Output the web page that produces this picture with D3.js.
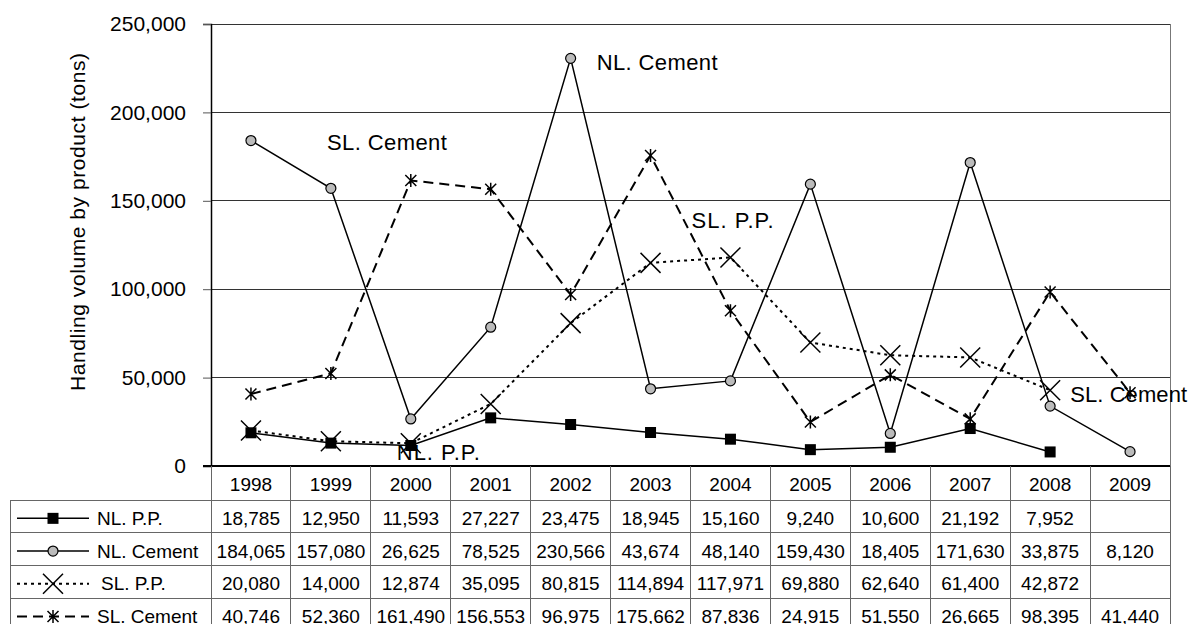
<!DOCTYPE html>
<html>
<head>
<meta charset="utf-8">
<script src="https://cdn.jsdelivr.net/npm/d3@7"></script>
<style>
  html, body { margin: 0; padding: 0; background: #fff; }
  svg { display: block; font-family: "Liberation Sans", Arial, sans-serif; }
</style>
</head>
<body>
<svg id="chart" width="1192" height="624"></svg>
<script>
// ---- data ----
const years = ["1998","1999","2000","2001","2002","2003","2004","2005","2006","2007","2008","2009"];
const nlPP     = [18785, 12950, 11593, 27227, 23475, 18945, 15160, 9240, 10600, 21192, 7952, null];
const nlCement = [184065, 157080, 26625, 78525, 230566, 43674, 48140, 159430, 18405, 171630, 33875, 8120];
const slPP     = [20080, 14000, 12874, 35095, 80815, 114894, 117971, 69880, 62640, 61400, 42872, null];
const slCement = [40746, 52360, 161490, 156553, 96975, 175662, 87836, 24915, 51550, 26665, 98395, 41440];
const seriesNames = ["NL. P.P.", "NL. Cement", "SL. P.P.", "SL. Cement"];
const yTicks = [0, 50000, 100000, 150000, 200000, 250000];
const yTitle = "Handling volume by product (tons)";

const series = [
  { name: seriesNames[0], values: nlPP,     marker: "square", dash: null },
  { name: seriesNames[1], values: nlCement, marker: "circle", dash: null },
  { name: seriesNames[2], values: slPP,     marker: "x",      dash: "3,4" },
  { name: seriesNames[3], values: slCement, marker: "star",   dash: "10,6" }
];

// ---- layout ----
const svg = d3.select("#chart");
const plotLeft = 211, plotRight = 1170, plotTop = 24, plotBottom = 466;
const x = d3.scaleBand().domain(years).range([plotLeft, plotRight]).padding(0);
const y = d3.scaleLinear().domain([0, 250000]).range([plotBottom, plotTop]);
const xc = yr => x(yr) + x.bandwidth() / 2;
const fmt = d3.format(",");

// gridlines
svg.append("g").selectAll("line").data(yTicks.filter(t => t > 0)).join("line")
  .attr("x1", plotLeft).attr("x2", plotRight)
  .attr("y1", d => y(d)).attr("y2", d => y(d))
  .attr("stroke", "#333").attr("stroke-width", 1).attr("shape-rendering", "crispEdges");

// right border
svg.append("line").attr("x1", plotRight).attr("x2", plotRight)
  .attr("y1", plotTop).attr("y2", plotBottom)
  .attr("stroke", "#777").attr("stroke-width", 1).attr("shape-rendering", "crispEdges");

// y axis
const yAxis = d3.axisLeft(y).tickValues(yTicks).tickFormat(fmt).tickSize(8).tickPadding(17);
const gy = svg.append("g").attr("transform", `translate(${plotLeft},0)`).call(yAxis);
gy.select(".domain").attr("stroke", "#000").attr("stroke-width", 1.5);
gy.selectAll(".tick line").attr("stroke", "#555").attr("stroke-width", 1);
gy.selectAll(".tick text").attr("font-size", 21).attr("fill", "#000")
  .attr("font-family", "Liberation Sans, Arial, sans-serif");

// bottom axis line
svg.append("line").attr("x1", plotLeft - 8).attr("x2", plotRight)
  .attr("y1", plotBottom).attr("y2", plotBottom)
  .attr("stroke", "#000").attr("stroke-width", 2);

// y title
svg.append("text")
  .attr("transform", `translate(77,${(plotTop + plotBottom) / 2 - 23}) rotate(-90)`)
  .attr("text-anchor", "middle").attr("dominant-baseline", "central")
  .attr("font-size", 21).attr("textLength", 338).attr("lengthAdjust", "spacing")
  .text(yTitle);

// ---- marker drawing ----
function drawMarker(g, type, cx, cy) {
  if (type === "square") {
    g.append("rect").attr("x", cx - 5.5).attr("y", cy - 5.5).attr("width", 11).attr("height", 11)
      .attr("fill", "#000");
  } else if (type === "circle") {
    g.append("circle").attr("cx", cx).attr("cy", cy).attr("r", 5)
      .attr("fill", "#bbb").attr("stroke", "#000").attr("stroke-width", 1.2);
  } else if (type === "x") {
    const s = 10;
    g.append("path").attr("d", `M${cx - s},${cy - s}L${cx + s},${cy + s}M${cx - s},${cy + s}L${cx + s},${cy - s}`)
      .attr("stroke", "#000").attr("stroke-width", 1.5).attr("fill", "none");
  } else if (type === "star") {
    const s = 5.5;
    g.append("path").attr("d", `M${cx - s},${cy - s}L${cx + s},${cy + s}M${cx - s},${cy + s}L${cx + s},${cy - s}M${cx},${cy - s - 1}L${cx},${cy + s + 1}`)
      .attr("stroke", "#000").attr("stroke-width", 1.5).attr("fill", "none");
  }
}

// ---- lines ----
const line = d3.line().defined(d => d.v != null).x(d => xc(d.yr)).y(d => y(d.v));
const gLines = svg.append("g");
series.forEach(s => {
  const pts = years.map((yr, i) => ({ yr, v: s.values[i] }));
  gLines.append("path").datum(pts).attr("d", line)
    .attr("fill", "none").attr("stroke", "#000")
    .attr("stroke-width", s.dash ? 2 : 1.5)
    .attr("stroke-dasharray", s.dash);
});
const gMarks = svg.append("g");
series.forEach(s => {
  years.forEach((yr, i) => {
    if (s.values[i] != null) drawMarker(gMarks, s.marker, xc(yr), y(s.values[i]));
  });
});

// ---- annotations ----
const ann = svg.append("g").attr("font-size", 22).attr("dominant-baseline", "central")
  .attr("lengthAdjust", "spacing");
function annot(txt, ax, ay, len) {
  ann.append("text").attr("x", ax).attr("y", ay).attr("textLength", len)
    .attr("lengthAdjust", "spacing").text(txt);
}
annot(seriesNames[1], xc("2002") + 26, y(nlCement[4]) + 4, 121);
annot(seriesNames[3], xc("1999") - 4, y(182700), 120);
annot(seriesNames[2], xc("2003") + 41, y(139100), 82);
annot(seriesNames[0], xc("2000") - 14, y(7900), 83);
annot(seriesNames[3], xc("2008") + 20, y(40200), 117);

// ---- data table ----
const tLeft = 10, headerTop = plotBottom, headerH = 34, rowH = 32.7;
const bodyTop = headerTop + headerH;
const tbl = svg.append("g");
const gridC = "#666";
years.forEach(yr => {
  tbl.append("line").attr("x1", x(yr)).attr("x2", x(yr)).attr("y1", headerTop).attr("y2", 624)
    .attr("stroke", gridC).attr("stroke-width", 1).attr("shape-rendering", "crispEdges");
  tbl.append("text").attr("x", xc(yr)).attr("y", headerTop + headerH / 2 + 1)
    .attr("text-anchor", "middle").attr("dominant-baseline", "central")
    .attr("font-size", 19).text(yr);
});
tbl.append("line").attr("x1", plotRight).attr("x2", plotRight).attr("y1", headerTop).attr("y2", 624)
  .attr("stroke", gridC).attr("stroke-width", 1).attr("shape-rendering", "crispEdges");
tbl.append("line").attr("x1", tLeft).attr("x2", tLeft).attr("y1", bodyTop).attr("y2", 624)
  .attr("stroke", gridC).attr("stroke-width", 1).attr("shape-rendering", "crispEdges");
series.forEach((s, i) => {
  const top = bodyTop + i * rowH;
  tbl.append("line").attr("x1", tLeft).attr("x2", plotRight).attr("y1", top).attr("y2", top)
    .attr("stroke", gridC).attr("stroke-width", 1).attr("shape-rendering", "crispEdges");
  const cy = top + rowH / 2 + 2;
  const lg = tbl.append("g");
  lg.append("line").attr("x1", 17).attr("x2", 89).attr("y1", cy).attr("y2", cy)
    .attr("stroke", "#000").attr("stroke-width", s.dash ? 2 : 1.5)
    .attr("stroke-dasharray", s.dash);
  drawMarker(lg, s.marker, 53, cy);
  tbl.append("text").attr("x", s.marker === "x" ? 101 : 97).attr("y", cy)
    .attr("dominant-baseline", "central").attr("font-size", 19).text(s.name);
  years.forEach((yr, j) => {
    if (s.values[j] != null) {
      tbl.append("text").attr("x", xc(yr)).attr("y", cy)
        .attr("text-anchor", "middle").attr("dominant-baseline", "central")
        .attr("font-size", 19).text(fmt(s.values[j]));
    }
  });
});
</script>
</body>
</html>
